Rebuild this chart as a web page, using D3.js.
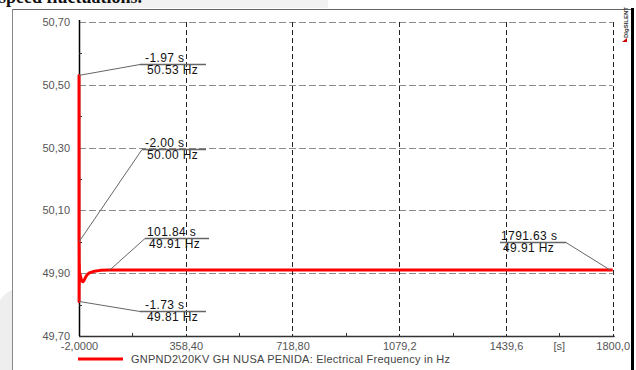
<!DOCTYPE html>
<html><head><meta charset="utf-8">
<script src="https://cdn.jsdelivr.net/npm/d3@7"></script>
<style>
html,body{margin:0;padding:0;background:#fff;}
svg{display:block;font-family:"Liberation Sans",Arial,sans-serif;}
</style></head>
<body><svg id="c" width="636" height="370"></svg>
<script>
// ---- data ----
const timeS  = [-2.00, -1.97, -1.90, -1.73, -1.55, -1.30, -1.00, -0.50, 0.50, 2, 5, 8, 11, 15, 20, 27, 35, 50, 70, 101.84, 300, 600, 900, 1200, 1500, 1791.63, 1800];
const freqHz = [50.00, 50.53, 50.30, 49.81, 49.98, 49.86, 49.93, 49.89, 49.90, 49.895, 49.882, 49.875, 49.873, 49.877, 49.887, 49.897, 49.902, 49.906, 49.909, 49.91, 49.91, 49.91, 49.91, 49.91, 49.91, 49.91, 49.91];
const xTickValues = [-2, 358.4, 718.8, 1079.2, 1439.6, 1800];
const xTickLabels = ["-2,0000", "358,40", "718,80", "1079,2", "1439,6", "1800,0"];
const xMinorValues = [178.2, 538.6, 899.0, 1259.4, 1619.8];
const yTickValues = [49.7, 49.9, 50.1, 50.3, 50.5, 50.7];
const yTickLabels = ["49,70", "49,90", "50,10", "50,30", "50,50", "50,70"];
const yMinorValues = [49.8, 50.0, 50.2, 50.4, 50.6];
const annTime = [-1.97, -2.00, 101.84, -1.73, 1791.63];
const annFreq = [50.53, 50.00, 49.91, 49.81, 49.91];
const annLabels = [["-1.97 s","50.53 Hz"],["-2.00 s","50.00 Hz"],["101.84 s","49.91 Hz"],["-1.73 s","49.81 Hz"],["1791.63 s","49.91 Hz"]];
const legendLabel = "GNPND2\\20KV GH NUSA PENIDA: Electrical Frequency in Hz";
const unitLabel = "[s]";
const captionText = "speed fluctuations.";

// ---- layout (pixels) ----
const annLayout = [ // underline left x, underline y, underline right x, connector attaches at "left"/"right"
  {x0:140, y:64.5, x1:206, side:"left", tx:145},
  {x0:142, y:149.5, x1:206, side:"left", tx:145},
  {x0:145, y:238.5, x1:209, side:"left", tx:147},
  {x0:140, y:311.5, x1:206, side:"left", tx:145},
  {x0:500, y:242.5, x1:566, side:"right", tx:501}
];

const svg = d3.select("#c");
const L = 79, R = 612.7, T = 22, B = 336;
const x = d3.scaleLinear().domain([-2, 1800]).range([L, R]);
const y = d3.scaleLinear().domain([49.7, 50.7]).range([B, T]);

// background artifacts
svg.append("rect").attr("x",100).attr("y",0).attr("width",228).attr("height",8).attr("fill","#f2f2f2");
svg.append("path").attr("d","M0,300 Q6,292 12,290 L12,370 L0,370 Z").attr("fill","#eeeeee");
svg.append("text").attr("x",-1).attr("y",3).attr("font-family","'Liberation Serif',serif")
  .attr("font-size",18).attr("font-weight","bold").attr("fill","#111").text(captionText);

// frame
svg.append("rect").attr("x",13).attr("y",9).attr("width",619).attr("height",370).attr("fill","#fff");
svg.append("line").attr("x1",13).attr("x2",632).attr("y1",9.5).attr("y2",9.5).attr("stroke","#666").attr("stroke-width",1);
svg.append("line").attr("x1",12.5).attr("x2",12.5).attr("y1",9).attr("y2",370).attr("stroke","#888").attr("stroke-width",1);
svg.append("line").attr("x1",632.5).attr("x2",632.5).attr("y1",8).attr("y2",370).attr("stroke","#000").attr("stroke-width",3);

// DIgSILENT mark
svg.append("text").attr("transform","translate(628,38) rotate(-90)").attr("font-size",6).attr("font-weight","bold")
  .attr("fill","#333").text("DIgSILENT");
svg.append("path").attr("d","M622,42 L627,38 L627,42 Z").attr("fill","#c00");

// grid
const g = svg.append("g");
g.selectAll("line.hg").data(yTickValues.slice(1)).join("line")
  .attr("x1",L).attr("x2",R).attr("y1",d=>Math.round(y(d))+0.5).attr("y2",d=>Math.round(y(d))+0.5)
  .attr("stroke","#8c8c8c").attr("stroke-width",1.2).attr("stroke-dasharray","7,3");
g.selectAll("line.vg").data(xTickValues.slice(1)).join("line")
  .attr("x1",d=>Math.round(x(d))+0.5).attr("x2",d=>Math.round(x(d))+0.5).attr("y1",T).attr("y2",B)
  .attr("stroke","#222").attr("stroke-width",1).attr("stroke-dasharray","5,3");

// axes
const yAxis = d3.axisLeft(y).tickValues(yTickValues).tickFormat((d,i)=>yTickLabels[i]).tickSize(0).tickPadding(9);
const ya = svg.append("g").attr("transform",`translate(${L},0)`).call(yAxis);
ya.select(".domain").attr("stroke","#000").attr("stroke-width",1.5).attr("d",`M0.5,${T-2}V${B}`);
ya.selectAll("text").attr("font-size",11).attr("fill","#555").attr("font-family","'Liberation Sans',Arial,sans-serif");

const xAxis = d3.axisBottom(x).tickValues(xTickValues).tickFormat((d,i)=>xTickLabels[i]).tickSize(0).tickPadding(6);
const xa = svg.append("g").attr("transform",`translate(0,${B})`).call(xAxis);
xa.select(".domain").attr("stroke","#333").attr("stroke-width",1.5).attr("d",`M${L},0.5H${R+2}`);
xa.selectAll("text").attr("font-size",11).attr("fill","#555").attr("font-family","'Liberation Sans',Arial,sans-serif");
xa.append("text").attr("x",x(xMinorValues[4])).attr("y",6).attr("dy","0.71em").attr("text-anchor","middle")
  .attr("font-size",11).attr("fill","#555").text(unitLabel);

// minor ticks
svg.selectAll("line.ym").data(yMinorValues).join("line")
  .attr("x1",L).attr("x2",L+3).attr("y1",d=>Math.round(y(d))+0.5).attr("y2",d=>Math.round(y(d))+0.5).attr("stroke","#333");
svg.selectAll("line.xm").data(xMinorValues).join("line")
  .attr("x1",d=>Math.round(x(d))+0.5).attr("x2",d=>Math.round(x(d))+0.5).attr("y1",B).attr("y2",B-3).attr("stroke","#333");

// series
const pts = timeS.map((t,i)=>[t,freqHz[i]]);
svg.append("path").datum(pts).attr("fill","none").attr("stroke","#ff0000").attr("stroke-width",3)
  .attr("stroke-linejoin","round")
  .attr("d", d3.line().x(d=>x(d[0])).y(d=>y(d[1])));

// annotations
annTime.forEach((t,i)=>{
  const lay = annLayout[i];
  const px = x(t), py = y(annFreq[i]);
  const ax = lay.side==="left" ? lay.x0 : lay.x1;
  svg.append("line").attr("x1",px).attr("y1",py).attr("x2",ax).attr("y2",lay.y)
    .attr("stroke","#666").attr("stroke-width",1);
  svg.append("line").attr("x1",lay.x0).attr("x2",lay.x1).attr("y1",lay.y).attr("y2",lay.y)
    .attr("stroke","#666").attr("stroke-width",1.3);
  svg.append("text").attr("x",lay.tx).attr("y",lay.y-3).attr("font-size",12).attr("letter-spacing",0.4)
    .attr("fill","#111").text(annLabels[i][0]);
  svg.append("text").attr("x",lay.tx+2).attr("y",lay.y+9.5).attr("font-size",12).attr("letter-spacing",0.4)
    .attr("fill","#111").text(annLabels[i][1]);
});

// legend
svg.append("line").attr("x1",78).attr("x2",123).attr("y1",359).attr("y2",359).attr("stroke","#ff0000").attr("stroke-width",3);
svg.append("text").attr("x",131).attr("y",363).attr("font-size",11).attr("fill","#444")
  .attr("textLength",319).attr("lengthAdjust","spacing").text(legendLabel);
</script></body></html>
